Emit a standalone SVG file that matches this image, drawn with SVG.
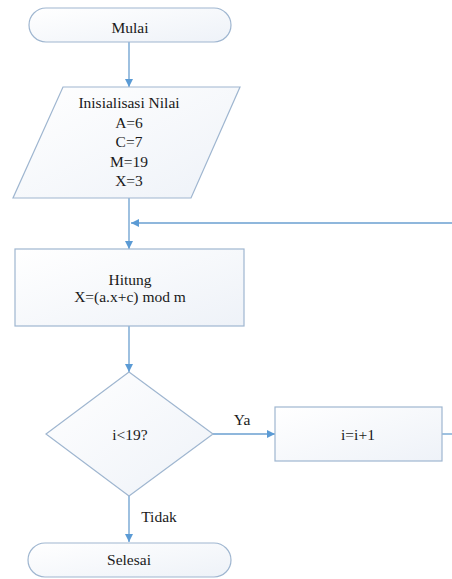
<svg xmlns="http://www.w3.org/2000/svg" width="452" height="579" viewBox="0 0 452 579">
<style>
.shape{fill:url(#g);stroke:#9fb6d0;stroke-width:1.2}
.conn{fill:none;stroke:#6a9fd0;stroke-width:1.3}
.t{font-size:15.5px;fill:#1a1a1a;text-anchor:middle}
</style>
<defs>
<linearGradient id="g" x1="0" y1="0" x2="1" y2="1">
<stop offset="0" stop-color="#ffffff"/>
<stop offset="1" stop-color="#eef2f8"/>
</linearGradient>
<marker id="ah" viewBox="0 0 10 10" refX="10" refY="5" markerWidth="8" markerHeight="8" markerUnits="userSpaceOnUse" orient="auto">
<path d="M0,0 L10,5 L0,10 z" fill="#5b9bd5"/>
</marker>
</defs>
<rect width="452" height="579" fill="#fff"/>
<g font-family="'Liberation Serif', 'Times New Roman', 'DejaVu Serif', serif">
<g id="connectors">
<path class="conn" d="M129,42 V87" marker-end="url(#ah)"/>
<path class="conn" d="M129,198 V249" marker-end="url(#ah)"/>
<path class="conn" d="M452,223 H131" marker-end="url(#ah)"/>
<path class="conn" d="M129,326 V372" marker-end="url(#ah)"/>
<path class="conn" d="M213,434 H275" marker-end="url(#ah)"/>
<path class="conn" d="M442,434 H452"/>
<path class="conn" d="M129,496 V542" marker-end="url(#ah)"/>
<text class="t" x="242" y="425">Ya</text>
<text class="t" x="159" y="522">Tidak</text>
</g>
<g id="mulai">
<rect class="shape" x="29" y="8" width="202" height="34" rx="17"/>
<text class="t" x="130" y="33">Mulai</text>
</g>
<g id="inisialisasi">
<polygon class="shape" points="63,87 240,87 191,198 13,198"/>
<text class="t" x="129" y="108">Inisialisasi Nilai</text>
<text class="t" x="129" y="127.5">A=6</text>
<text class="t" x="129" y="147">C=7</text>
<text class="t" x="129" y="166.5">M=19</text>
<text class="t" x="129" y="186">X=3</text>
</g>
<g id="hitung">
<rect class="shape" x="15" y="249" width="229" height="77"/>
<text class="t" x="130" y="285">Hitung</text>
<text class="t" x="130" y="302">X=(a.x+c) mod m</text>
</g>
<g id="kondisi">
<polygon class="shape" points="129,372 213,434 129,496 46,434"/>
<text class="t" x="130" y="440">i&lt;19?</text>
</g>
<g id="increment">
<rect class="shape" x="275" y="407" width="167" height="54"/>
<text class="t" x="358" y="440">i=i+1</text>
</g>
<g id="selesai">
<rect class="shape" x="28" y="543" width="203" height="34" rx="17"/>
<text class="t" x="129" y="565">Selesai</text>
</g>
</g>
</svg>
